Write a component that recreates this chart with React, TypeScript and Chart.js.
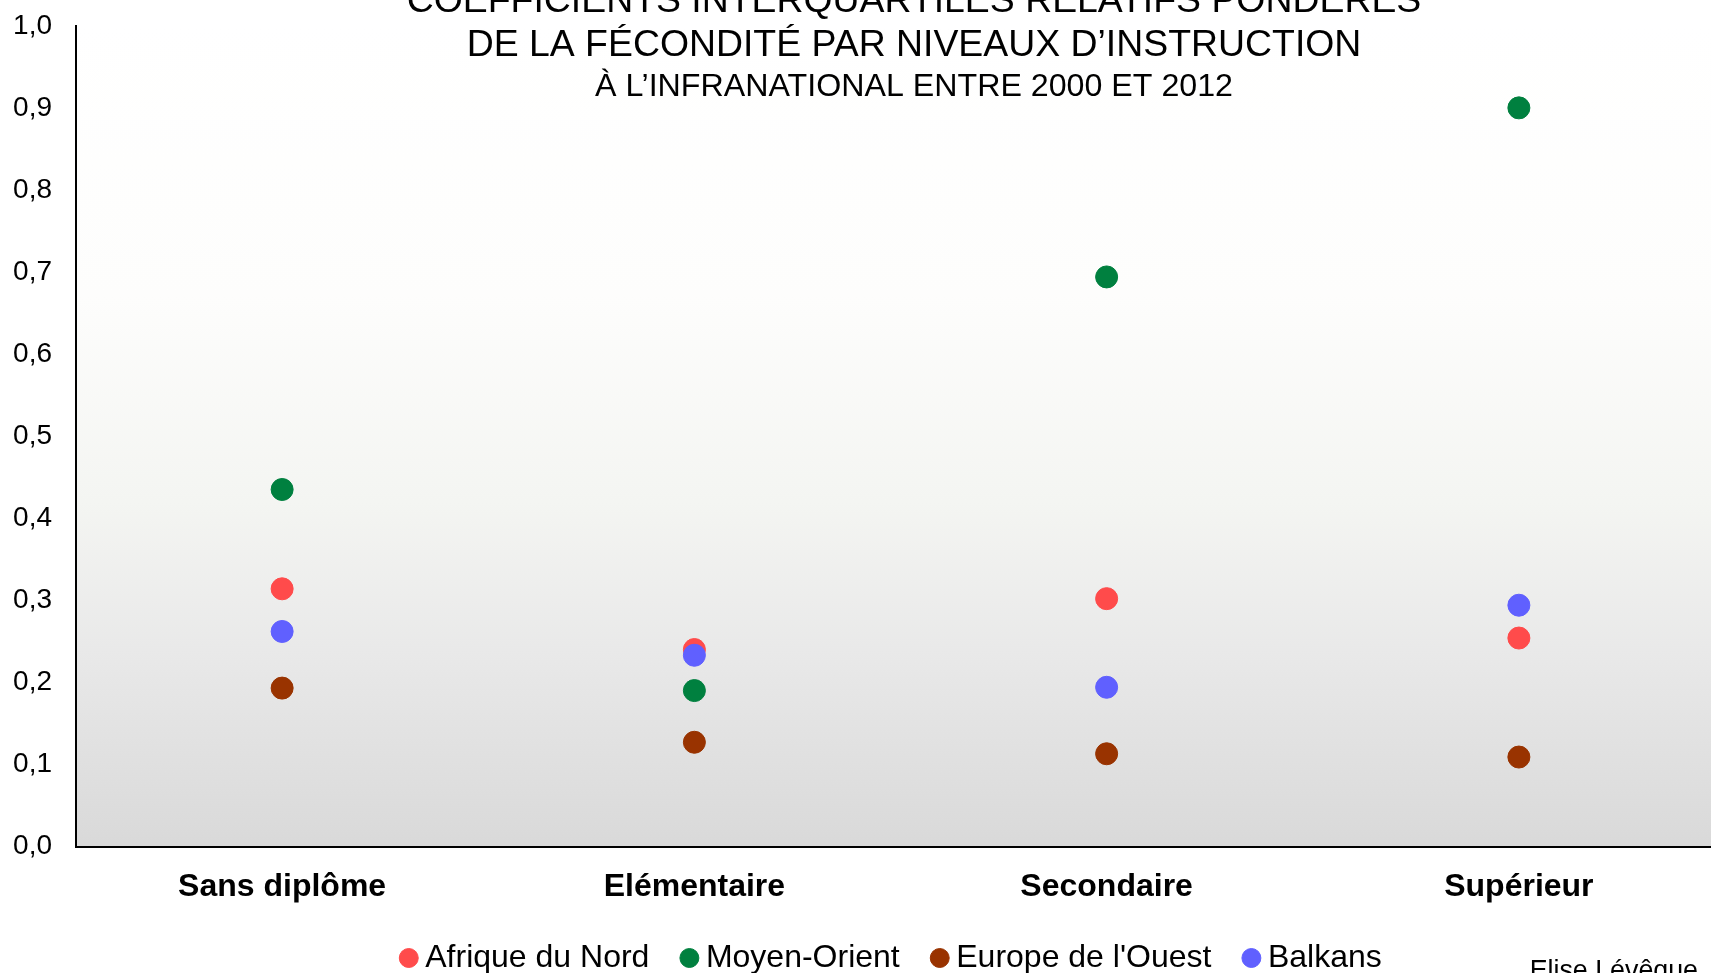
import React, { useEffect, useRef } from "react";
import { Chart, registerables } from "chart.js";

Chart.register(...registerables);

const categories = ["Sans diplôme", "Elémentaire", "Secondaire", "Supérieur"];
const seriesNames = ["Afrique du Nord", "Moyen-Orient", "Europe de l'Ouest", "Balkans"];
const afriqueDuNord = [0.314, 0.240, 0.302, 0.254];
const moyenOrient = [0.435, 0.190, 0.694, 0.900];
const europeOuest = [0.193, 0.127, 0.113, 0.109];
const balkans = [0.262, 0.233, 0.194, 0.294];
const seriesColors = ["#ff4b4b", "#00803f", "#993300", "#6060ff"];
const titleLines = [
  "COEFFICIENTS INTERQUARTILES RELATIFS PONDÉRÉS",
  "DE LA FÉCONDITÉ PAR NIVEAUX D’INSTRUCTION",
  "À L’INFRANATIONAL ENTRE 2000 ET 2012",
];
const credit = "Elise Lévêque";

const FONT = "'Liberation Sans', Arial, sans-serif";

const W = 1780;
const H = 999;
const SHIFT = 15;

const gradientPlugin = {
  id: "bgGradient",
  beforeDraw(chart: any) {
    const { ctx, chartArea } = chart;
    if (!chartArea) return;
    const g = ctx.createLinearGradient(0, chartArea.top, 0, chartArea.bottom);
    g.addColorStop(0, "#ffffff");
    g.addColorStop(0.33, "#fdfdfc");
    g.addColorStop(0.58, "#f4f5f2");
    g.addColorStop(0.76, "#e9e9e9");
    g.addColorStop(1, "#d9d9d9");
    ctx.save();
    ctx.fillStyle = g;
    ctx.fillRect(chartArea.left, chartArea.top, chartArea.right - chartArea.left, chartArea.bottom - chartArea.top);
    ctx.restore();
  },
};

const legendShiftPlugin = {
  id: "legendShift",
  afterLayout(chart: any) {
    if (chart.legend) {
      chart.legend.left += 65;
    }
  },
};

const textPlugin = {
  id: "titleText",
  afterDraw(chart: any) {
    const { ctx } = chart;
    ctx.save();
    ctx.fillStyle = "#000000";
    ctx.textAlign = "center";
    ctx.textBaseline = "alphabetic";
    ctx.font = `37.4px ${FONT}`;
    ctx.fillText(titleLines[0], 914, 12 + SHIFT);
    ctx.fillText(titleLines[1], 914, 56 + SHIFT);
    ctx.font = `32.2px ${FONT}`;
    ctx.fillText(titleLines[2], 914, 96 + SHIFT);
    ctx.font = `26.8px ${FONT}`;
    ctx.textAlign = "right";
    ctx.fillText(credit, 1698, 979 + SHIFT);
    ctx.restore();
  },
};

export default function App() {
  const ref = useRef<HTMLCanvasElement | null>(null);

  useEffect(() => {
    if (!ref.current) return;
    Chart.defaults.font.family = FONT;
    const values = [afriqueDuNord, moyenOrient, europeOuest, balkans];
    const orders = [4, 3, 2, 1];
    const chart = new Chart(ref.current, {
      type: "line",
      data: {
        labels: categories,
        datasets: values.map((v, i) => ({
          label: seriesNames[i],
          data: v,
          showLine: false,
          order: orders[i],
          borderColor: seriesColors[i],
          backgroundColor: seriesColors[i],
          pointBackgroundColor: seriesColors[i],
          pointBorderColor: seriesColors[i],
          pointBorderWidth: 1,
          pointRadius: 11,
          pointHoverRadius: 11,
          pointStyle: "circle",
        })),
      },
      options: {
        responsive: false,
        animation: false,
        layout: { padding: { left: 0, right: 55, top: 10, bottom: 0 } },
        plugins: {
          title: { display: false },
          tooltip: { enabled: false },
          legend: {
            display: true,
            position: "bottom",
            labels: {
              usePointStyle: true,
              boxWidth: 1,
              boxHeight: 13.4,
              padding: 39.5,
              color: "#000000",
              font: { size: 32, family: FONT },
              sort: (a: any, b: any) => a.datasetIndex - b.datasetIndex,
            },
          },
        },
        scales: {
          x: {
            type: "category",
            offset: true,
            grid: { display: false, drawTicks: false },
            border: { display: true, color: "#000000", width: 2 },
            ticks: {
              color: "#000000",
              padding: 24.5,
              font: { size: 32, weight: "bold", family: FONT, lineHeight: 1.0 },
            },
            afterFit(scale: any) {
              scale.height = 56;
            },
          },
          y: {
            min: 0,
            max: 1,
            grid: { display: false, drawTicks: false },
            border: { display: true, color: "#000000", width: 2 },
            ticks: {
              stepSize: 0.1,
              color: "#000000",
              padding: 24,
              font: { size: 28, family: FONT },
              callback: (v: any) => Number(v).toFixed(1).replace(".", ","),
            },
            afterFit(scale: any) {
              scale.width = 76;
            },
          },
        },
      },
      plugins: [gradientPlugin, legendShiftPlugin, textPlugin],
    } as any);
    return () => chart.destroy();
  }, []);

  return (
    <div
      style={{
        position: "fixed",
        left: 0,
        top: 0,
        width: 1711,
        height: 973,
        overflow: "hidden",
        background: "#ffffff",
      }}
    >
      <canvas
        ref={ref}
        width={W}
        height={H}
        style={{ display: "block", position: "absolute", left: 0, top: -SHIFT, width: W, height: H }}
      />
    </div>
  );
}
